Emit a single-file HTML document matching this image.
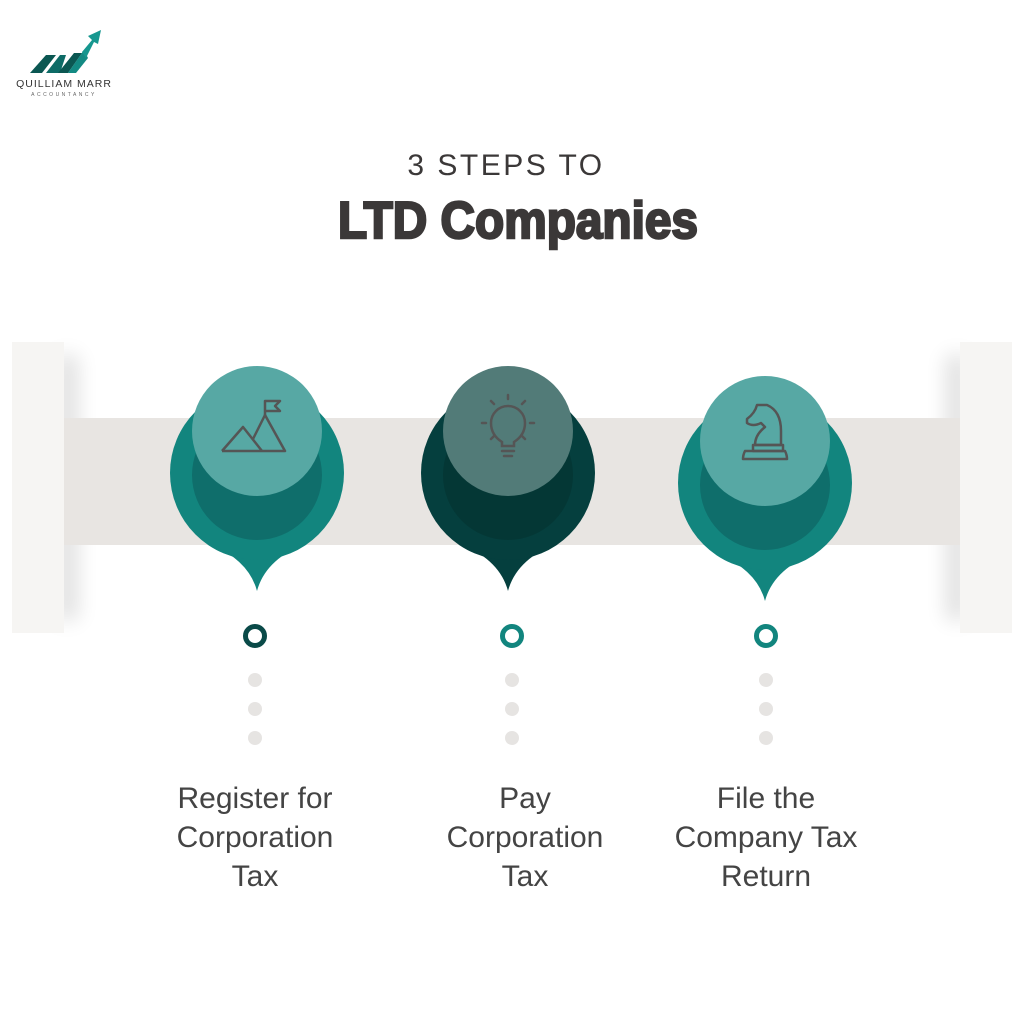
<!DOCTYPE html>
<html><head><meta charset="utf-8"><style>
body{margin:0;width:1024px;height:1024px;background:#fff;overflow:hidden;font-family:"Liberation Sans",sans-serif}
</style></head><body>
<svg width="1024" height="1024" viewBox="0 0 1024 1024" xmlns="http://www.w3.org/2000/svg">
<defs>
<filter id="sh" x="-100%" y="-20%" width="300%" height="140%"><feGaussianBlur stdDeviation="10"/></filter>
<g id="tail"><path d="M-45,72 Q-8,88 0,118 Q8,88 45,72 Z"/></g>
</defs>
<!-- logo -->
<g>
<polygon points="30,73 46,55 56,55 42,73" fill="#0b5752"/>
<polygon points="46,73 60,55 66,55 60,73" fill="#0d6b66"/>
<polygon points="58,73 74,53 82,53 68,73" fill="#0b5752"/>
<polygon points="68,73 84,50 88,58 76,73" fill="#138a83"/>
<polygon points="82,52 92,40 88,36 101,30 98,44 94,42 86,58" fill="#16978f"/>
<text x="64" y="87" text-anchor="middle" font-size="10.5" fill="#333" letter-spacing="1">QUILLIAM MARR</text>
<text x="64" y="96" text-anchor="middle" font-size="5" fill="#666" letter-spacing="2.5">ACCOUNTANCY</text>
</g>
<!-- title -->
<text x="506" y="175" text-anchor="middle" font-size="30" fill="#3b3838" letter-spacing="2.5">3 STEPS TO</text>
<text x="518" y="238" text-anchor="middle" font-size="52" font-weight="bold" fill="#3b3838" stroke="#3b3838" stroke-width="2.5" textLength="360" lengthAdjust="spacingAndGlyphs">LTD Companies</text>
<!-- band -->
<rect x="56" y="355" width="22" height="265" fill="#000" opacity="0.12" filter="url(#sh)"/>
<rect x="946" y="355" width="22" height="265" fill="#000" opacity="0.12" filter="url(#sh)"/>
<rect x="64" y="418" width="896" height="127" fill="#e8e5e2"/>
<rect x="12" y="342" width="52" height="291" fill="#f6f5f3"/>
<rect x="960" y="342" width="52" height="291" fill="#f6f5f3"/>
<!-- pin 1 -->
<g transform="translate(257,473)">
<use href="#tail" fill="#12857e"/>
<circle r="87" fill="#12857e"/>
<circle cy="2" r="65" fill="#0f6e6b"/>
<circle cy="-42" r="65" fill="#57a8a4"/>
<g fill="none" stroke="#555" stroke-width="2.5" stroke-linejoin="round">
<polyline points="-35,-22 -14,-46 5,-22"/>
<polyline points="-4,-34 8,-58 28,-22 -35,-22"/>
<polyline points="8,-58 8,-72 23,-72 18,-67 23,-62 8,-62"/>
</g>
</g>
<!-- pin 2 -->
<g transform="translate(508,473)">
<use href="#tail" fill="#053f3e"/>
<circle r="87" fill="#053f3e"/>
<circle cy="2" r="65" fill="#043735"/>
<circle cy="-42" r="65" fill="#527b78"/>
<g fill="none" stroke="#555" stroke-width="2.5" stroke-linecap="round">
<path d="M-6,-27 L-6,-31 Q-17,-38 -17,-50 A17,17 0 0 1 17,-50 Q17,-38 6,-31 L6,-27 Z"/>
<path d="M-6,-22 L6,-22 M-4,-17 L4,-17"/>
<path d="M0,-78 L0,-74 M-17,-72 L-14,-69 M17,-72 L14,-69 M-26,-50 L-22,-50 M26,-50 L22,-50 M-17,-34 L-14,-37 M17,-34 L14,-37"/>
</g>
</g>
<!-- pin 3 -->
<g transform="translate(765,483)">
<use href="#tail" fill="#12857e"/>
<circle r="87" fill="#12857e"/>
<circle cy="2" r="65" fill="#0f6e6b"/>
<circle cy="-42" r="65" fill="#57a8a4"/>
<g fill="none" stroke="#555" stroke-width="2.5" stroke-linejoin="round">
<path d="M-8,-78 L2,-78 Q16,-72 16,-52 L16,-38 L-10,-38 Q-10,-48 0,-56 L-4,-60 Q-12,-56 -18,-60 L-18,-64 Q-10,-70 -8,-78 Z"/>
<path d="M-12,-38 L18,-38 L18,-32 L-12,-32 Z"/>
<path d="M-20,-32 L20,-32 Q22,-28 22,-24 L-22,-24 Q-22,-28 -20,-32 Z"/>
</g>
</g>
<!-- rings & dots -->
<g fill="none" stroke-width="5">
<circle cx="255" cy="636" r="9.5" stroke="#0a4a48"/>
<circle cx="512" cy="636" r="9.5" stroke="#12857e"/>
<circle cx="766" cy="636" r="9.5" stroke="#12857e"/>
</g>
<g fill="#e6e4e2">
<circle cx="255" cy="680" r="7"/><circle cx="255" cy="709" r="7"/><circle cx="255" cy="738" r="7"/>
<circle cx="512" cy="680" r="7"/><circle cx="512" cy="709" r="7"/><circle cx="512" cy="738" r="7"/>
<circle cx="766" cy="680" r="7"/><circle cx="766" cy="709" r="7"/><circle cx="766" cy="738" r="7"/>
</g>
<!-- labels -->
<g font-size="30" fill="#444" text-anchor="middle">
<text x="255" y="808">Register for</text>
<text x="255" y="847">Corporation</text>
<text x="255" y="886">Tax</text>
<text x="525" y="808">Pay</text>
<text x="525" y="847">Corporation</text>
<text x="525" y="886">Tax</text>
<text x="766" y="808">File the</text>
<text x="766" y="847">Company Tax</text>
<text x="766" y="886">Return</text>
</g>
</svg>
</body></html>
